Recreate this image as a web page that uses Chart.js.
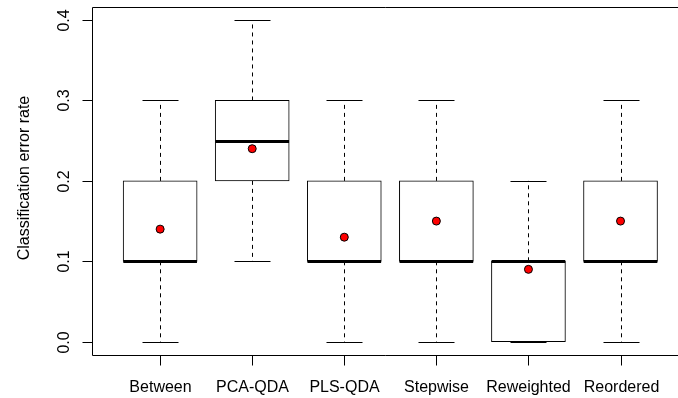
<!DOCTYPE html>
<html>
<head>
<meta charset="utf-8">
<script src="https://cdn.jsdelivr.net/npm/chart.js@4"></script>
<style>
  html, body { margin: 0; padding: 0; background: #fff; }
  #wrap { width: 678px; height: 398px; }
</style>
</head>
<body>
<div id="wrap"><canvas id="chart" width="678" height="398"></canvas></div>
<script>
// Classification error rate per method, as five-number summaries plus mean
const methods   = ['Between', 'PCA-QDA', 'PLS-QDA', 'Stepwise', 'Reweighted', 'Reordered'];
const whiskLow  = [0.0, 0.1, 0.0, 0.0, 0.0, 0.0];
const quart1    = [0.1, 0.2, 0.1, 0.1, 0.0, 0.1];
const medians   = [0.1, 0.25, 0.1, 0.1, 0.1, 0.1];
const quart3    = [0.2, 0.3, 0.2, 0.2, 0.1, 0.2];
const whiskHigh = [0.3, 0.4, 0.3, 0.3, 0.2, 0.3];
const means     = [0.14, 0.24, 0.13, 0.15, 0.09, 0.15];
const yTicks    = [0.0, 0.1, 0.2, 0.3, 0.4];
const yTickText = ['0.0', '0.1', '0.2', '0.3', '0.4'];

const FONT = '16px "Liberation Sans", Arial, sans-serif';
const positions = methods.map((m, i) => i + 1);

// whiskers, caps, medians, axes and labels drawn against the chart's scales
const boxExtras = {
  id: 'boxExtras',
  beforeDatasetsDraw(chart) {
    const { ctx, scales: { x, y } } = chart;
    ctx.save();
    ctx.strokeStyle = '#000';
    ctx.lineWidth = 1;
    positions.forEach((p, i) => {
      const cx = Math.round(x.getPixelForValue(p)) + 0.5;
      const half = Math.round(x.getPixelForValue(p + 0.2) - x.getPixelForValue(p));
      // dashed whiskers
      ctx.setLineDash([4, 4]);
      ctx.beginPath();
      ctx.moveTo(cx, y.getPixelForValue(quart3[i]));
      ctx.lineTo(cx, y.getPixelForValue(whiskHigh[i]));
      ctx.moveTo(cx, y.getPixelForValue(quart1[i]));
      ctx.lineTo(cx, y.getPixelForValue(whiskLow[i]));
      ctx.stroke();
      // caps
      ctx.setLineDash([]);
      ctx.beginPath();
      [whiskHigh[i], whiskLow[i]].forEach(v => {
        const py = Math.round(y.getPixelForValue(v)) + 0.5;
        ctx.moveTo(cx - half, py);
        ctx.lineTo(cx + half, py);
      });
      ctx.stroke();
    });
    ctx.restore();
  },
  afterDatasetDraw(chart, args) {
    if (args.index !== 0) return;
    const { ctx, scales: { x, y } } = chart;
    ctx.save();
    ctx.strokeStyle = '#000';
    ctx.lineWidth = 3;
    positions.forEach((p, i) => {
      const l = x.getPixelForValue(p - 0.4);
      const r = x.getPixelForValue(p + 0.4);
      const py = Math.round(y.getPixelForValue(medians[i])) + 0.5;
      ctx.beginPath();
      ctx.moveTo(l, py);
      ctx.lineTo(r, py);
      ctx.stroke();
    });
    ctx.restore();
  },
  afterDraw(chart) {
    const { ctx, chartArea: a, scales: { x, y } } = chart;
    ctx.save();
    ctx.strokeStyle = '#000';
    ctx.fillStyle = '#000';
    ctx.lineWidth = 1;
    const left = Math.round(a.left) + 0.5;
    const top = Math.round(a.top) + 0.5;
    const bottom = Math.round(a.bottom) + 0.5;
    // plot frame (right side falls outside the canvas)
    ctx.beginPath();
    ctx.moveTo(chart.width, top);
    ctx.lineTo(left, top);
    ctx.lineTo(left, bottom);
    ctx.lineTo(chart.width, bottom);
    ctx.stroke();

    // y axis ticks and rotated labels
    ctx.font = FONT;
    ctx.textAlign = 'center';
    ctx.textBaseline = 'alphabetic';
    yTicks.forEach((v, i) => {
      const py = Math.round(y.getPixelForValue(v)) + 0.5;
      ctx.beginPath();
      ctx.moveTo(left, py);
      ctx.lineTo(left - 10, py);
      ctx.stroke();
      ctx.save();
      ctx.translate(69, py);
      ctx.rotate(-Math.PI / 2);
      ctx.fillText(yTickText[i], 0, 0);
      ctx.restore();
    });

    // x axis ticks and category labels
    positions.forEach((p, i) => {
      const px = Math.round(x.getPixelForValue(p)) + 0.5;
      ctx.beginPath();
      ctx.moveTo(px, bottom);
      ctx.lineTo(px, bottom + 10);
      ctx.stroke();
      ctx.fillText(methods[i], px, 392);
    });

    // y axis title
    ctx.save();
    ctx.translate(29, (a.top + a.bottom) / 2 - 3);
    ctx.rotate(-Math.PI / 2);
    ctx.fillText('Classification error rate', 0, 0);
    ctx.restore();
    ctx.restore();
  }
};

new Chart(document.getElementById('chart'), {
  type: 'bar',
  data: {
    datasets: [
      {
        type: 'bar',
        order: 1,
        data: positions.map((p, i) => ({ x: p, y: [quart1[i], quart3[i]] })),
        backgroundColor: '#fff',
        borderColor: '#000',
        borderWidth: 1,
        borderSkipped: false,
        barThickness: 74
      },
      {
        type: 'scatter',
        order: 0,
        data: positions.map((p, i) => ({ x: p, y: means[i] })),
        pointStyle: 'circle',
        pointRadius: 4,
        pointHoverRadius: 4,
        backgroundColor: '#ff0000',
        borderColor: '#000',
        borderWidth: 1
      }
    ]
  },
  options: {
    responsive: false,
    animation: false,
    events: [],
    layout: { padding: { left: 92, top: 7, right: 1, bottom: 43 } },
    plugins: { legend: { display: false }, tooltip: { enabled: false } },
    scales: {
      x: { type: 'linear', display: false, offset: false, min: 0.26, max: 6.57 },
      y: { type: 'linear', display: false, min: -0.0165, max: 0.4162 }
    }
  },
  plugins: [boxExtras]
});
</script>
</body>
</html>
